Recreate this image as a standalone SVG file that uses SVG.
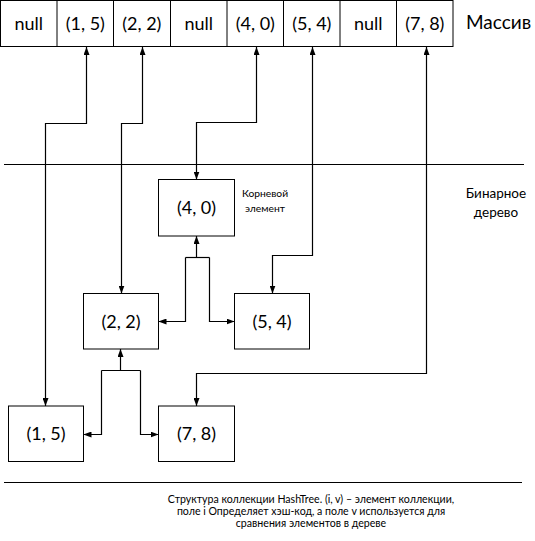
<svg xmlns="http://www.w3.org/2000/svg" width="535" height="541" viewBox="0 0 535 541">
<style>
.bx{fill:#fff;stroke:#000;stroke-width:1}
.ln{fill:none;stroke:#000;stroke-width:1.2}
.t{font-family:Lato,"Open Sans","Liberation Sans",sans-serif;fill:#000;text-anchor:middle}
.v{font-size:18px}
.s{font-size:10.3px}
.c{font-size:10.6px}
</style>
<defs>
<marker id="ah" viewBox="0 0 8 6" refX="8" refY="3" markerWidth="8" markerHeight="6" markerUnits="userSpaceOnUse" orient="auto-start-reverse">
<path d="M0,0 L8,3 L0,6 z" fill="#000"/>
</marker>
</defs>
<rect width="535" height="541" fill="#fff"/>
<g id="array">
<rect class="bx" x="0.5" y="0.5" width="452.5" height="46"/>
<path class="ln" style="stroke-width:1" d="M57,0.5 V46.5 M113.5,0.5 V46.5 M170.5,0.5 V46.5 M227,0.5 V46.5 M283.5,0.5 V46.5 M340,0.5 V46.5 M396.5,0.5 V46.5"/>
<g class="t v">
<text x="28.8" y="30">null</text>
<text x="85.3" y="30">(1, 5)</text>
<text x="141.8" y="30">(2, 2)</text>
<text x="198.8" y="30">null</text>
<text x="255.3" y="30">(4, 0)</text>
<text x="311.8" y="30">(5, 4)</text>
<text x="368.3" y="30">null</text>
<text x="424.8" y="30">(7, 8)</text>
</g>
<text class="t" x="466" y="28.5" style="font-size:19px;text-anchor:start">Массив</text>
</g>
<g id="separators">
<path class="ln" d="M4,164.5 H524 M4,482.5 H522"/>
</g>
<text class="t" x="496" y="197.5" style="font-size:13.5px">Бинарное</text>
<text class="t" x="496" y="216.5" style="font-size:13.5px">дерево</text>
<g id="n40">
<rect class="bx" x="158.5" y="179.5" width="76" height="56.5"/>
<text class="t v" x="196.5" y="214">(4, 0)</text>
<text class="t s" x="265" y="197.3">Корневой</text>
<text class="t s" x="265" y="211.7">элемент</text>
</g>
<g id="n22">
<rect class="bx" x="83.5" y="293.5" width="75" height="55.5"/>
<text class="t v" x="121" y="327.5">(2, 2)</text>
</g>
<g id="n54">
<rect class="bx" x="234.5" y="293.5" width="75" height="55.5"/>
<text class="t v" x="272" y="327.5">(5, 4)</text>
</g>
<g id="n15">
<rect class="bx" x="8.5" y="406" width="75" height="55.5"/>
<text class="t v" x="46" y="440">(1, 5)</text>
</g>
<g id="n78">
<rect class="bx" x="158.5" y="406" width="76" height="55.5"/>
<text class="t v" x="196.5" y="440">(7, 8)</text>
</g>
<g id="connectors" class="ln">
<path marker-start="url(#ah)" marker-end="url(#ah)" d="M86.5,47 V123.5 H45.5 V406"/>
<path marker-start="url(#ah)" marker-end="url(#ah)" d="M142.5,47 V123.5 H121.5 V293.5"/>
<path marker-start="url(#ah)" marker-end="url(#ah)" d="M256.5,47 V122.5 H196.5 V179.5"/>
<path marker-start="url(#ah)" marker-end="url(#ah)" d="M312.5,47 V255.5 H272.5 V293.5"/>
<path marker-start="url(#ah)" marker-end="url(#ah)" d="M426.5,47 V373.5 H196.5 V406"/>
<path marker-end="url(#ah)" d="M196.5,257.5 V236"/>
<path d="M185.5,257.5 H209.5"/>
<path marker-end="url(#ah)" d="M185.5,257.5 V321.5 H158.5"/>
<path marker-end="url(#ah)" d="M209.5,257.5 V321.5 H234.5"/>
<path marker-end="url(#ah)" d="M120.5,370.5 V349"/>
<path d="M101.5,370.5 H140.5"/>
<path marker-end="url(#ah)" d="M101.5,370.5 V434.5 H83.5"/>
<path marker-end="url(#ah)" d="M140.5,370.5 V434.5 H158.5"/>
</g>
<g id="caption" class="t c">
<text x="311" y="503">Структура коллекции HashTree. (i, v) – элемент коллекции,</text>
<text x="311" y="515">поле i Определяет хэш-код, а поле v используется для</text>
<text x="311" y="527">сравнения элементов в дереве</text>
</g>
</svg>
